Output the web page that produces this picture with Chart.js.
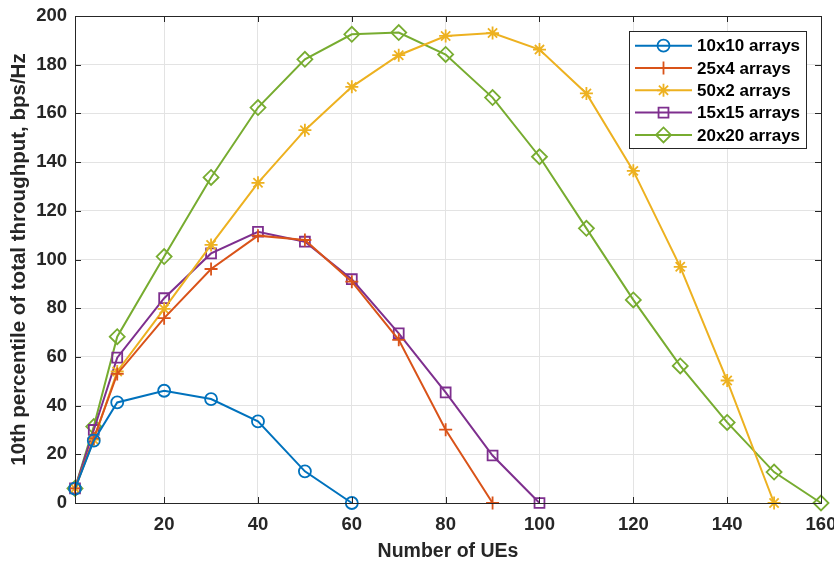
<!DOCTYPE html>
<html>
<head>
<meta charset="utf-8">
<title>10th percentile throughput</title>
<script src="https://cdn.jsdelivr.net/npm/chart.js"></script>
<style>
body{ margin:0; background:#fff; }
.canvas_div{
    width: 834px;
    height: 566px;
}
</style>
</head>
<body>
<div class="canvas_div">
    <canvas id="myChart"></canvas>
</div>

<script>
// number of UEs (x positions of the points)
const ues = [1, 5, 10, 20, 30, 40, 50, 60, 70, 80, 90, 100, 110, 120, 130, 140, 150, 160];
const xTicks = [20, 40, 60, 80, 100, 120, 140, 160];
const yTicks = [0, 20, 40, 60, 80, 100, 120, 140, 160, 180, 200];

// 10th percentile of total throughput (bps/Hz), one value per UE count
const arr10x10 = [5.9, 25.6, 41.3, 46.1, 42.7, 33.5, 13.0, 0];
const arr25x4  = [6, 26.5, 53, 75.9, 96.1, 109.8, 108, 90.9, 67, 30.1, 0];
const arr50x2  = [6, 26, 54, 79.7, 106, 131.5, 153.1, 170.9, 183.9, 191.8, 193.0, 186.2, 168.2, 136.4, 97.0, 50.3, 0];
const arr15x15 = [6, 30, 59.7, 84.1, 102.5, 111.4, 107.3, 91.9, 69.7, 45.4, 19.5, 0];
const arr20x20 = [6, 31.4, 68.3, 101.2, 133.7, 162.4, 182.2, 192.5, 193.2, 184.2, 166.5, 142.2, 112.8, 83.4, 56.3, 33.1, 12.7, 0];

const seriesNames = ['10x10 arrays', '25x4 arrays', '50x2 arrays', '15x15 arrays', '20x20 arrays'];

const FONT = "'Liberation Sans', Arial, Helvetica, sans-serif";
const AXIS = '#262626';

function toPoints(vals){
    return vals.map(function(v, i){ return {x: ues[i], y: v}; });
}

function makeSet(label, vals, color, style, radius){
    return {
        label: label,
        data: toPoints(vals),
        borderColor: color,
        backgroundColor: color,
        borderWidth: 2,
        pointStyle: style,
        pointRadius: radius,
        pointHoverRadius: radius,
        pointBorderWidth: 1.8,
        pointBorderColor: color,
        pointBackgroundColor: 'rgba(0,0,0,0)',
        fill: false,
        tension: 0,
        clip: false
    };
}

const data = {
    datasets: [
        makeSet(seriesNames[0], arr10x10, '#0072BD', 'circle', 6),
        makeSet(seriesNames[1], arr25x4,  '#D95319', 'cross', 6.5),
        makeSet(seriesNames[2], arr50x2,  '#EDB120', 'star', 6.5),
        makeSet(seriesNames[3], arr15x15, '#7E2F8E', 'rect', 7),
        makeSet(seriesNames[4], arr20x20, '#77AC30', 'rectRot', 7.5)
    ]
};

// box round the axes, inward tick marks and the MATLAB-like legend
const boxPlugin = {
    id: 'boxPlugin',
    afterDraw: function(chart){
        const ctx = chart.ctx;
        const a = chart.chartArea;
        const xs = chart.scales.x, ys = chart.scales.y;
        ctx.save();
        ctx.strokeStyle = AXIS;
        ctx.lineWidth = 1;
        ctx.strokeRect(Math.round(a.left) + 0.5, Math.round(a.top) + 0.5,
                       Math.round(a.right - a.left), Math.round(a.bottom - a.top));
        const tl = 6;
        ctx.beginPath();
        xTicks.forEach(function(v){
            const px = Math.round(xs.getPixelForValue(v)) + 0.5;
            ctx.moveTo(px, a.bottom); ctx.lineTo(px, a.bottom - tl);
            ctx.moveTo(px, a.top); ctx.lineTo(px, a.top + tl);
        });
        yTicks.forEach(function(v){
            const py = Math.round(ys.getPixelForValue(v)) + 0.5;
            ctx.moveTo(a.left, py); ctx.lineTo(a.left + tl, py);
            ctx.moveTo(a.right, py); ctx.lineTo(a.right - tl, py);
        });
        ctx.stroke();

        // legend
        const lx = 629.5, ly = 31.5, lw = 177, lh = 117;
        ctx.fillStyle = '#fff';
        ctx.fillRect(lx, ly, lw, lh);
        ctx.strokeStyle = AXIS;
        ctx.strokeRect(lx, ly, lw, lh);
        ctx.font = 'bold 17px ' + FONT;
        ctx.textBaseline = 'middle';
        ctx.textAlign = 'left';
        chart.data.datasets.forEach(function(ds, i){
            const cy = 45.7 + i * 22.3;
            ctx.strokeStyle = ds.borderColor;
            ctx.lineWidth = 2;
            ctx.beginPath();
            ctx.moveTo(635, cy); ctx.lineTo(692, cy);
            ctx.stroke();
            ctx.lineWidth = ds.pointBorderWidth;
            ctx.fillStyle = 'rgba(0,0,0,0)';
            Chart.helpers.drawPoint(ctx, {
                pointStyle: ds.pointStyle, rotation: 0,
                radius: ds.pointRadius, borderWidth: ds.pointBorderWidth
            }, 663.5, cy);
            ctx.fillStyle = '#000';
            ctx.fillText(ds.label, 697, cy + 1);
        });
        ctx.restore();
    }
};

const config = {
    type: 'line',
    data: data,
    options: {
        responsive: true,
        maintainAspectRatio: false,
        animation: false,
        layout: { padding: { top: 16, right: 13, left: 0, bottom: 0 } },
        plugins: {
            legend: { display: false },
            tooltip: { enabled: false }
        },
        scales: {
            x: {
                type: 'linear',
                min: 1,
                max: 160,
                afterBuildTicks: function(scale){
                    scale.ticks = xTicks.map(function(v){ return {value: v}; });
                },
                afterFit: function(scale){
                    scale.height = 63;
                    scale.paddingLeft = 0;
                    scale.paddingRight = 0;
                },
                grid: { color: '#e3e3e3', lineWidth: 1, drawTicks: false },
                border: { display: false },
                ticks: {
                    padding: 11,
                    color: AXIS,
                    maxRotation: 0,
                    font: { family: FONT, size: 18.5, weight: 'bold' }
                },
                title: {
                    display: true,
                    text: 'Number of UEs',
                    color: AXIS,
                    padding: { top: 0, bottom: 3 },
                    font: { family: FONT, size: 19.5, weight: 'bold' }
                }
            },
            y: {
                min: 0,
                max: 200,
                afterBuildTicks: function(scale){
                    scale.ticks = yTicks.map(function(v){ return {value: v}; });
                },
                afterFit: function(scale){
                    scale.width = 75;
                    scale.paddingTop = 0;
                    scale.paddingBottom = 0;
                },
                grid: { color: '#e3e3e3', lineWidth: 1, drawTicks: false },
                border: { display: false },
                ticks: {
                    padding: 8,
                    color: AXIS,
                    font: { family: FONT, size: 18.5, weight: 'bold' }
                },
                title: {
                    display: true,
                    text: '10th percentile of total throughput, bps/Hz',
                    color: AXIS,
                    padding: { top: 7, bottom: 0 },
                    font: { family: FONT, size: 20.5, weight: 'bold' }
                }
            }
        }
    },
    plugins: [boxPlugin]
};

var myChart = new Chart(document.getElementById('myChart'), config);
</script>
</body>
</html>
